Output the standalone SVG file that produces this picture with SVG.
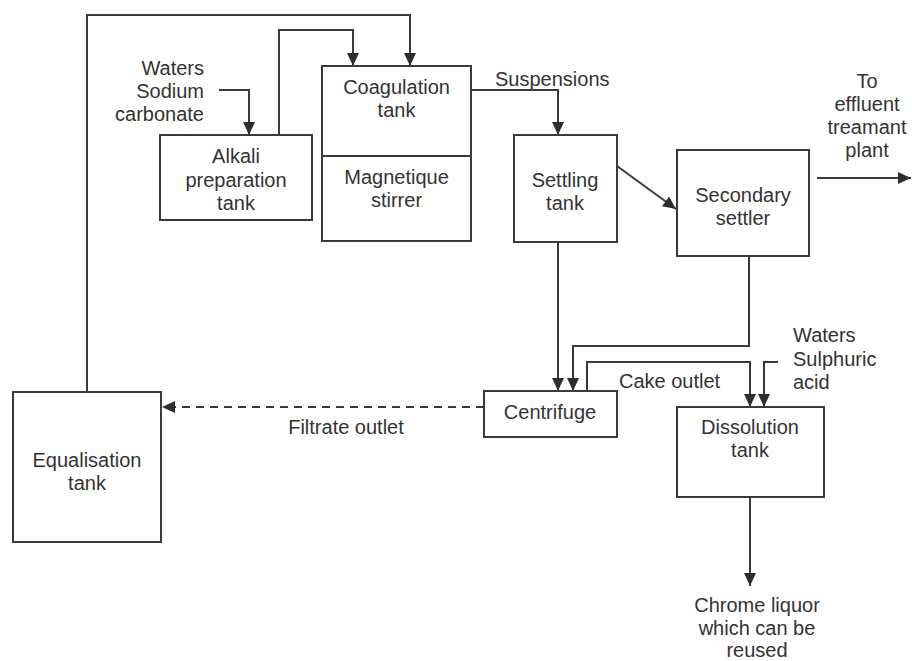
<svg xmlns="http://www.w3.org/2000/svg" width="912" height="661" viewBox="0 0 912 661">
  <style>
    .box { fill: #ffffff; stroke: #3a3a3a; stroke-width: 2; }
    .flow { fill: none; stroke: #3a3a3a; stroke-width: 2; }
    .dash { stroke-dasharray: 8 6; }
    text { font-family: "Liberation Sans", Arial, sans-serif; font-size: 20px; fill: #333333; }
    .c { text-anchor: middle; }
    .r { text-anchor: end; }
  </style>
  <defs>
    <marker id="arrow" markerUnits="userSpaceOnUse" markerWidth="14" markerHeight="12" refX="13" refY="6" orient="auto">
      <path d="M0,0 L13,6 L0,12 Z" fill="#2e2e2e"/>
    </marker>
  </defs>
  <rect width="912" height="661" fill="#ffffff"/>

  <g id="connectors">
    <!-- recycle loop from equalisation tank back to coagulation tank -->
    <polyline class="flow" points="87,392 87,15 410,15 410,66" marker-end="url(#arrow)"/>
    <!-- reagent feed into alkali tank -->
    <polyline class="flow" points="219,90 249,90 249,135" marker-end="url(#arrow)"/>
    <!-- alkali tank to coagulation tank -->
    <polyline class="flow" points="279,135 279,30 353,30 353,66" marker-end="url(#arrow)"/>
    <!-- suspensions to settling tank -->
    <polyline class="flow" points="471,90 558,90 558,135" marker-end="url(#arrow)"/>
    <!-- settling tank to secondary settler -->
    <line class="flow" x1="617" y1="166" x2="676" y2="209" marker-end="url(#arrow)"/>
    <!-- secondary settler to effluent plant -->
    <line class="flow" x1="817" y1="178" x2="911" y2="178" marker-end="url(#arrow)"/>
    <!-- settling tank sludge to centrifuge -->
    <line class="flow" x1="558" y1="242" x2="558" y2="391" marker-end="url(#arrow)"/>
    <!-- secondary settler sludge to centrifuge -->
    <polyline class="flow" points="749,256 749,346 573,346 573,391" marker-end="url(#arrow)"/>
    <!-- cake outlet to dissolution tank -->
    <polyline class="flow" points="587,391 587,362 750,362 750,407" marker-end="url(#arrow)"/>
    <!-- acid feed into dissolution tank -->
    <polyline class="flow" points="778,362 764,362 764,407" marker-end="url(#arrow)"/>
    <!-- filtrate back to equalisation tank -->
    <line class="flow dash" x1="484" y1="407" x2="162" y2="407" marker-end="url(#arrow)"/>
    <!-- chrome liquor output -->
    <line class="flow" x1="750" y1="497" x2="750" y2="586" marker-end="url(#arrow)"/>
  </g>

  <g id="alkali-tank">
    <rect class="box" x="160" y="135" width="152" height="85"/>
    <text class="c" x="236" y="163">Alkali</text>
    <text class="c" x="236" y="187">preparation</text>
    <text class="c" x="236" y="210">tank</text>
  </g>

  <g id="coagulation-tank">
    <rect class="box" x="322" y="66" width="149" height="175"/>
    <line class="flow" x1="322" y1="156" x2="471" y2="156"/>
    <text class="c" x="396.5" y="94">Coagulation</text>
    <text class="c" x="396.5" y="117">tank</text>
    <text class="c" x="396.5" y="184">Magnetique</text>
    <text class="c" x="396.5" y="207">stirrer</text>
  </g>

  <g id="settling-tank">
    <rect class="box" x="514" y="135" width="103" height="107"/>
    <text class="c" x="565" y="187">Settling</text>
    <text class="c" x="565" y="210">tank</text>
  </g>

  <g id="secondary-settler">
    <rect class="box" x="677" y="150" width="132" height="106"/>
    <text class="c" x="743" y="202">Secondary</text>
    <text class="c" x="743" y="225">settler</text>
  </g>

  <g id="centrifuge">
    <rect class="box" x="484" y="391" width="133" height="46"/>
    <text class="c" x="550" y="419">Centrifuge</text>
  </g>

  <g id="dissolution-tank">
    <rect class="box" x="677" y="407" width="147" height="90"/>
    <text class="c" x="750" y="434">Dissolution</text>
    <text class="c" x="750" y="457">tank</text>
  </g>

  <g id="equalisation-tank">
    <rect class="box" x="13" y="392" width="148" height="150"/>
    <text class="c" x="87" y="467">Equalisation</text>
    <text class="c" x="87" y="490">tank</text>
  </g>

  <g id="labels">
    <text class="r" x="204" y="75">Waters</text>
    <text class="r" x="204" y="98">Sodium</text>
    <text class="r" x="204" y="121">carbonate</text>
    <text x="495" y="86">Suspensions</text>
    <text class="c" x="867" y="88">To</text>
    <text class="c" x="867" y="111">effluent</text>
    <text class="c" x="867" y="134">treamant</text>
    <text class="c" x="867" y="157">plant</text>
    <text x="793" y="342">Waters</text>
    <text x="793" y="366">Sulphuric</text>
    <text x="793" y="389">acid</text>
    <text x="619" y="388">Cake outlet</text>
    <text class="c" x="346" y="434">Filtrate outlet</text>
    <text class="c" x="757" y="612">Chrome liquor</text>
    <text class="c" x="757" y="635">which can be</text>
    <text class="c" x="757" y="657">reused</text>
  </g>
</svg>
